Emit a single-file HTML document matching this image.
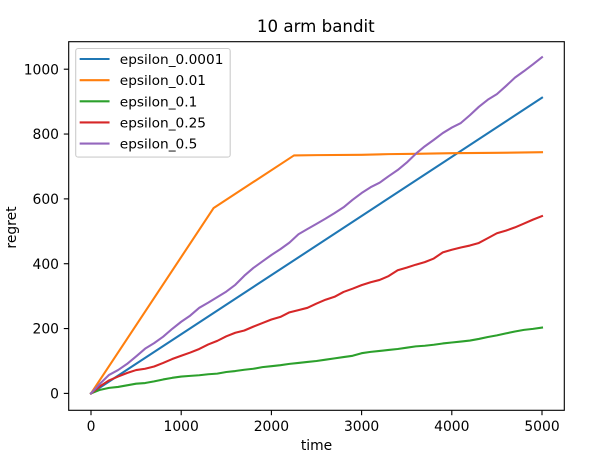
<!DOCTYPE html>
<html>
<head>
<meta charset="utf-8">
<title>10 arm bandit</title>
<style>
html,body{margin:0;padding:0;background:#fff;}
svg{display:block;font-family:"DejaVu Sans","Liberation Sans",sans-serif;}
text{fill:#000;}
</style>
</head>
<body>
<svg id="chart" xmlns="http://www.w3.org/2000/svg" width="591" height="462" viewBox="0 0 591 462">
  <rect x="0" y="0" width="591" height="462" fill="#ffffff"/>
  <text x="315.8" y="32" font-size="16.67" text-anchor="middle">10 arm bandit</text>
  <text x="316.5" y="450" font-size="13.89" text-anchor="middle">time</text>
  <text transform="translate(16 227.5) rotate(-90)" font-size="13.89" text-anchor="middle">regret</text>
  <g id="series"></g>
  <g id="ticks"></g>
  <rect x="68.7" y="41.7" width="495.6" height="368.6" fill="none" stroke="#000" stroke-width="1.11"/>
  <rect x="75.7" y="48.5" width="154.5" height="108.6" rx="2.5" fill="#ffffff" fill-opacity="0.8" stroke="#cccccc" stroke-width="1.11"/>
  <g id="legend"></g>
</svg>
<script>
const times = [0,100,200,300,400,500,600,700,800,900,1000,1100,1200,1300,1400,1500,1600,1700,1800,1900,2000,2100,2200,2300,2400,2500,2600,2700,2800,2900,3000,3100,3200,3300,3400,3500,3600,3700,3800,3900,4000,4100,4200,4300,4400,4500,4600,4700,4800,4900,5000];
const blueTimes = [0,5000];
const blueValues = [0,912];
const orangeTimes = [0,1360,2250,2500,3000,3300,3600,4000,4500,5000];
const orangeValues = [0,572,734,735,736,738,739,741,742,744];
const greenValues = [0,11,17,20,25,30,32,37,43,48,52,54,56,59,61,66,69,73,76,81,84,87,91,94,97,100,104,108,112,116,124,128,131,134,137,141,145,147,150,154,157,160,163,168,174,179,185,191,196,199,203];
const redValues = [0,22,40,52,63,72,76,83,94,106,116,126,137,151,162,176,187,194,206,217,228,236,250,257,264,277,289,298,313,323,334,343,350,362,380,388,397,405,416,435,443,450,456,464,479,494,502,512,524,536,547];
const purpleValues = [0,30,57,72,91,114,138,155,175,199,221,240,264,280,297,314,335,363,387,407,427,445,465,491,507,523,539,556,574,597,618,636,650,670,689,712,739,762,782,803,820,834,858,884,906,923,948,974,994,1015,1037];
const seriesLabels = ["epsilon_0.0001","epsilon_0.01","epsilon_0.1","epsilon_0.25","epsilon_0.5"];
const seriesColors = ["#1f77b4","#ff7f0e","#2ca02c","#d62728","#9467bd"];
const xTickValues = [0,1000,2000,3000,4000,5000];
const yTickValues = [0,200,400,600,800,1000];

const NS = "http://www.w3.org/2000/svg";
const xScale = function (t) { return 91 + t * (542 - 91) / 5000; };
const yScale = function (v) { return 393.4 - v * (393.4 - 69.2) / 1000; };

function make(tag, attrs, parent) {
  const el = document.createElementNS(NS, tag);
  for (const k in attrs) el.setAttribute(k, attrs[k]);
  parent.appendChild(el);
  return el;
}

const seriesGroup = document.getElementById("series");
const tickGroup = document.getElementById("ticks");
const legendGroup = document.getElementById("legend");

const seriesData = [
  [blueTimes, blueValues],
  [orangeTimes, orangeValues],
  [times, greenValues],
  [times, redValues],
  [times, purpleValues]
];

seriesData.forEach(function (pair, i) {
  const pts = pair[0].map(function (t, j) {
    return xScale(t).toFixed(2) + "," + yScale(pair[1][j]).toFixed(2);
  }).join(" ");
  const line = make("polyline", {points: pts, fill: "none", stroke: seriesColors[i], "stroke-width": 2.08, "stroke-linejoin": "round", "stroke-linecap": "square"}, seriesGroup);
  
  
});

xTickValues.forEach(function (t) {
  const x = xScale(t);
  const mark = make("line", {x1: x, x2: x, y1: 410.3, y2: 415.2, stroke: "#000", "stroke-width": 1.11}, tickGroup);
  
  
  const label = make("text", {x: x, y: 431, "font-size": 13.89, "text-anchor": "middle"}, tickGroup);
  label.textContent = String(t);
  
  
});

yTickValues.forEach(function (v) {
  const y = yScale(v);
  const mark = make("line", {x1: 63.8, x2: 68.7, y1: y, y2: y, stroke: "#000", "stroke-width": 1.11}, tickGroup);
  
  
  const label = make("text", {x: 59, y: y + 5.1, "font-size": 13.89, "text-anchor": "end"}, tickGroup);
  label.textContent = String(v);
  
  
});

seriesLabels.forEach(function (name, i) {
  const y = 59 + i * 21.15;
  const handle = make("line", {x1: 80.7, x2: 108.5, y1: y, y2: y, stroke: seriesColors[i], "stroke-width": 2.08, "stroke-linecap": "square"}, legendGroup);
  
  
  const label = make("text", {x: 119.8, y: y + 5, "font-size": 13.7}, legendGroup);
  label.textContent = name;
  
  
});
</script>
</body>
</html>
